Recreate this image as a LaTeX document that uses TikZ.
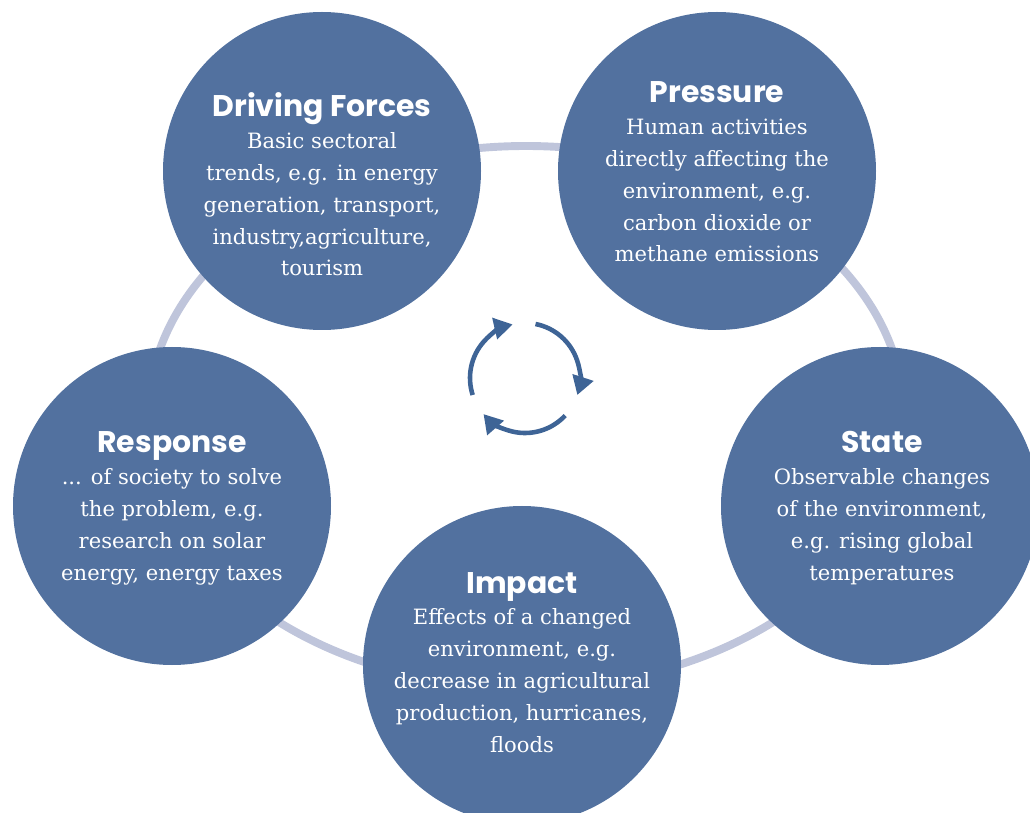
\documentclass[tikz,border=0pt]{standalone}
\usepackage{fontspec}
\setmainfont{DejaVu Serif}
\newfontfamily\poppins{Poppins}
\usepackage{tikz}
\usetikzlibrary{arrows.meta}
\definecolor{stageblue}{HTML}{52719F}
\definecolor{ringgrey}{HTML}{BFC5DB}
\definecolor{cyclecol}{HTML}{3E6496}
\tikzset{
  stage/.style={circle, fill=stageblue, minimum size=6.36cm, inner sep=0pt},
  heading/.style={text=white, anchor=base, inner sep=0pt, font=\poppins\bfseries\fontsize{17}{20}\selectfont},
  blurb/.style={text=white, align=center, anchor=base, inner sep=0pt, font=\fontsize{12}{18.2}\selectfont},
  ring/.style={draw=ringgrey, line width=4.5pt},
  cyclearc/.style={draw=cyclecol, line width=2.6pt, -{Triangle[length=10.5pt,width=12pt]}},
}

\begin{document}
\begin{tikzpicture}
              \useasboundingbox (0,0) rectangle (20.6,16.24);
              \clip (0,0) rectangle (20.6,16.24);

              % Ring behind the stages
              \draw[ring] (10.52,7.9) ellipse[x radius=7.56, y radius=5.42];

              % Define stages
              \node[stage] (D) at (6.44,12.82) {};
              \node[stage] (P) at (14.34,12.82) {};
              \node[stage] (S) at (17.6,6.12) {};
              \node[stage] (I) at (10.44,2.94) {};
              \node[stage] (R) at (3.44,6.12) {};

              % Headings
              \node[heading] (Dh) at (6.44,13.90) {Driving Forces};
              \node[heading] (Ph) at (14.34,14.18) {Pressure};
              \node[heading] (Sh) at (17.64,7.18) {State};
              \node[heading] (Ih) at (10.44,4.38) {Impact};
              \node[heading] (Rh) at (3.44,7.18) {Response};

              % Texts
              \node[blurb] (Db) at (6.44,10.72) {Basic sectoral\\trends, e.g. in energy\\generation, transport,\\industry,agriculture,\\tourism};
              \node[blurb] (Pb) at (14.34,11.0) {Human activities\\directly affecting the\\environment, e.g.\\carbon dioxide or\\methane emissions};
              \node[blurb] (Sb) at (17.64,4.64) {Observable changes\\of the environment,\\e.g. rising global\\temperatures};
              \node[blurb] (Ib) at (10.44,1.2) {Effects of a changed\\environment, e.g.\\decrease in agricultural\\production, hurricanes,\\floods};
              \node[blurb] (Rb) at (3.44,4.64) {... of society to solve\\the problem, e.g.\\research on solar\\energy, energy taxes};

              % Cycle in the middle
              \coordinate (hub) at (10.5,8.68);
              \draw[cyclearc] ([shift={(198:1.1)}]hub) arc[start angle=198, end angle=103, radius=1.1];
              \draw[cyclearc] ([shift={(79:1.1)}]hub) arc[start angle=79, end angle=-18, radius=1.1];
              \draw[cyclearc] ([shift={(-43:1.1)}]hub) arc[start angle=-43, end angle=-139, radius=1.1];
            \end{tikzpicture}
\end{document}
